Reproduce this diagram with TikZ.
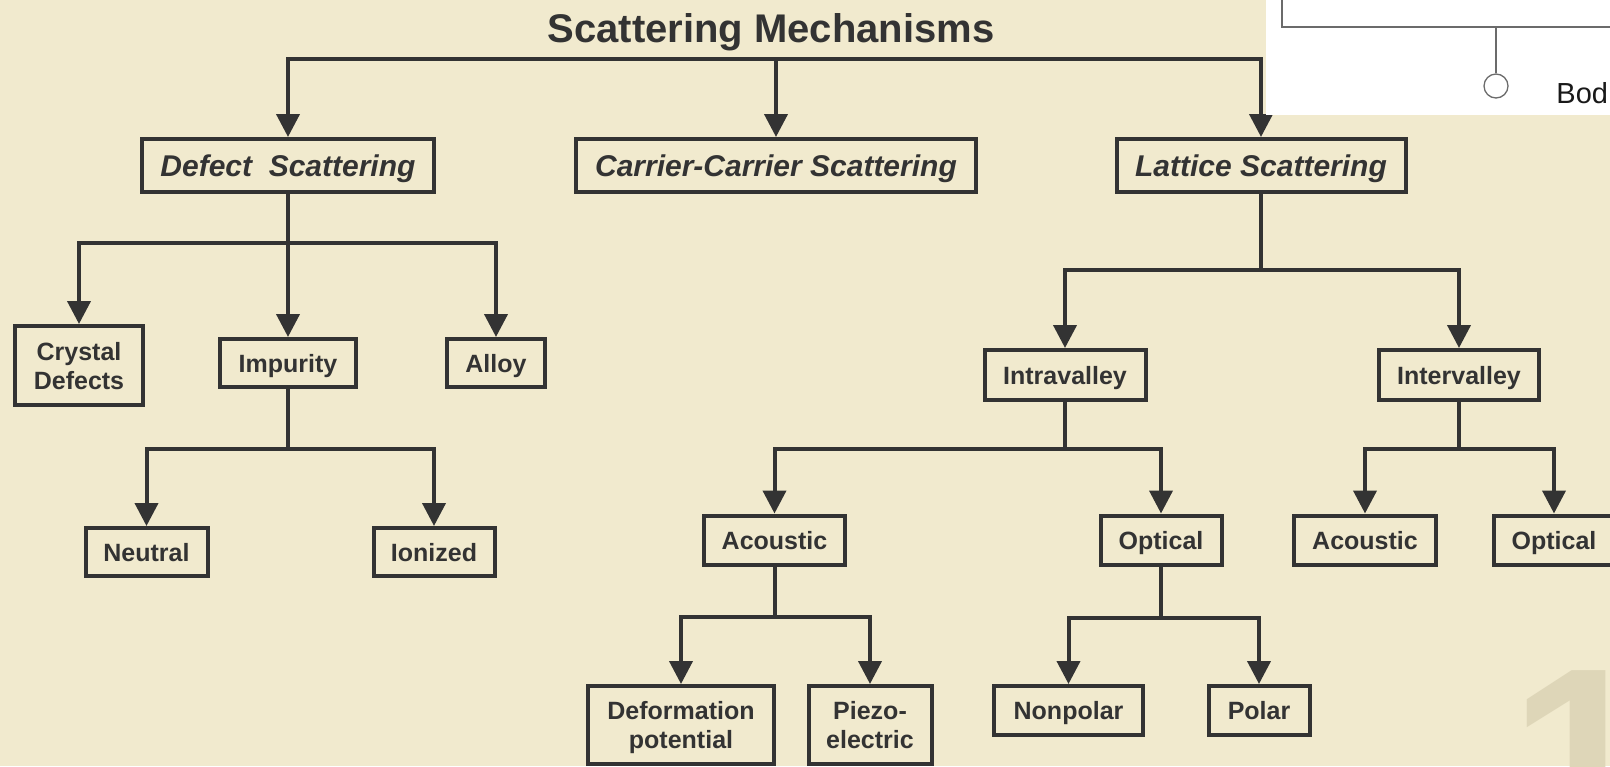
\documentclass[tikz,border=0pt]{standalone}
\usepackage{fontspec}
\setmainfont{Liberation Sans}
\usetikzlibrary{arrows.meta}
\definecolor{bg}{HTML}{F1EACE}
\definecolor{ink}{HTML}{333333}
\definecolor{numc}{HTML}{DED6B8}
\definecolor{ovl}{HTML}{6B6B6B}
\begin{document}
\begin{tikzpicture}[x=0.5pt,y=-0.5pt,
  box/.style={draw=ink, line width=2pt, inner sep=0pt, text=ink, align=center, text depth=0pt,
    font=\bfseries\fontsize{12.5}{14.5}\selectfont},
  big/.style={box, font=\bfseries\itshape\fontsize{15}{18}\selectfont},
  sz/.style 2 args={minimum width=#1*0.5pt, minimum height=#2*0.5pt},
  conn/.style={draw=ink, line width=2pt},
  arr/.style={conn, -{Triangle[width=11.5pt,length=11.5pt]}},
  ovline/.style={draw=ovl, line width=0.65pt}]
\useasboundingbox (0,0) rectangle (1610,766);
\clip (0,0) rectangle (1610,766);
\fill[bg] (0,0) rectangle (1610,766);
% slide number watermark
\node[anchor=base west, inner sep=0pt, text=numc, font=\bfseries\fontsize{130}{130}\selectfont] (num) at (1509,849) {1};

% title
\node[anchor=base, inner sep=0pt, text=ink, font=\bfseries\fontsize{20}{22}\selectfont] (title) at (771,42) {Scattering Mechanisms};

% level 1
\node[big, sz={292}{53}] (ds) at (288,165.5) {Defect\ \ Scattering};
\node[big, sz={400}{53}] (cc) at (776,165.5) {Carrier-Carrier Scattering};
\node[big, sz={289}{53}] (ls) at (1261,165.5) {Lattice Scattering};

% defect branch
\node[box, sz={128}{79}] (cd) at (79,365.5) {Crystal\\Defects};
\node[box, sz={136}{48}] (imp) at (288,363) {Impurity};
\node[box, sz={98}{48}] (alloy) at (496,363) {Alloy};
\node[box, sz={122}{48}] (neu) at (146.5,552) {Neutral};
\node[box, sz={121}{48}] (ion) at (434,552) {Ionized};

% lattice branch
\node[box, sz={161}{50}] (intra) at (1065,375) {Intravalley};
\node[box, sz={160}{50}] (inter) at (1459,375) {Intervalley};
\node[box, sz={141}{49}] (ac1) at (774.5,540) {Acoustic};
\node[box, sz={121}{49}] (op1) at (1161,540) {Optical};
\node[box, sz={142}{49}] (ac2) at (1365,540) {Acoustic};
\node[box, sz={121}{49}] (op2) at (1554,540) {Optical};
\node[box, sz={186}{78}] (def) at (681,725) {Deformation\\potential};
\node[box, sz={123}{78}] (pie) at (870,725) {Piezo-\\electric};
\node[box, sz={149}{49}] (np) at (1068.5,710.5) {Nonpolar};
\node[box, sz={101}{49}] (pol) at (1259,710.5) {Polar};

% junctions
\coordinate (jt) at (776,59.3);
\coordinate (jd) at (288,243);
\coordinate (ji) at (288,449.3);
\coordinate (jl) at (1261,270);
\coordinate (jia) at (1065,449.3);
\coordinate (jie) at (1459,449.3);
\coordinate (ja) at (774.5,617);
\coordinate (jo) at (1161,618);

% connectors
\draw[arr] (jt) -| (ds.north);
\draw[arr] (jt) -- (cc.north);
\draw[arr] (jt) -| (ls.north);

\draw[conn] (ds.south) -- (jd);
\draw[arr] (jd) -| (cd.north);
\draw[arr] (jd) -- (imp.north);
\draw[arr] (jd) -| (alloy.north);
\draw[conn] (imp.south) -- (ji);
\draw[arr] (ji) -| (neu.north);
\draw[arr] (ji) -| (ion.north);

\draw[conn] (ls.south) -- (jl);
\draw[arr] (jl) -| (intra.north);
\draw[arr] (jl) -| (inter.north);
\draw[conn] (intra.south) -- (jia);
\draw[arr] (jia) -| (ac1.north);
\draw[arr] (jia) -| (op1.north);
\draw[conn] (inter.south) -- (jie);
\draw[arr] (jie) -| (ac2.north);
\draw[arr] (jie) -| (op2.north);
\draw[conn] (ac1.south) -- (ja);
\draw[arr] (ja) -| (def.north);
\draw[arr] (ja) -| (pie.north);
\draw[conn] (op1.south) -- (jo);
\draw[arr] (jo) -| (np.north);
\draw[arr] (jo) -| (pol.north);

% overlay from another slide (top right)
\fill[white] (1266,0) rectangle (1620,115);
\draw[ovline] (1282,-5) -- (1282,27) -- (1625,27);
\coordinate (ovb) at (1496,27);
\node[circle, ovline, fill=white, inner sep=0pt, minimum size=12pt] (cir) at (1496,86) {};
\draw[ovline] (ovb) -- (cir.north);
\node[anchor=base west, inner sep=0pt, text=black!90, font=\fontsize{14.5}{16}\selectfont] (bod) at (1556,103) {Bod};
\end{tikzpicture}
\end{document}
